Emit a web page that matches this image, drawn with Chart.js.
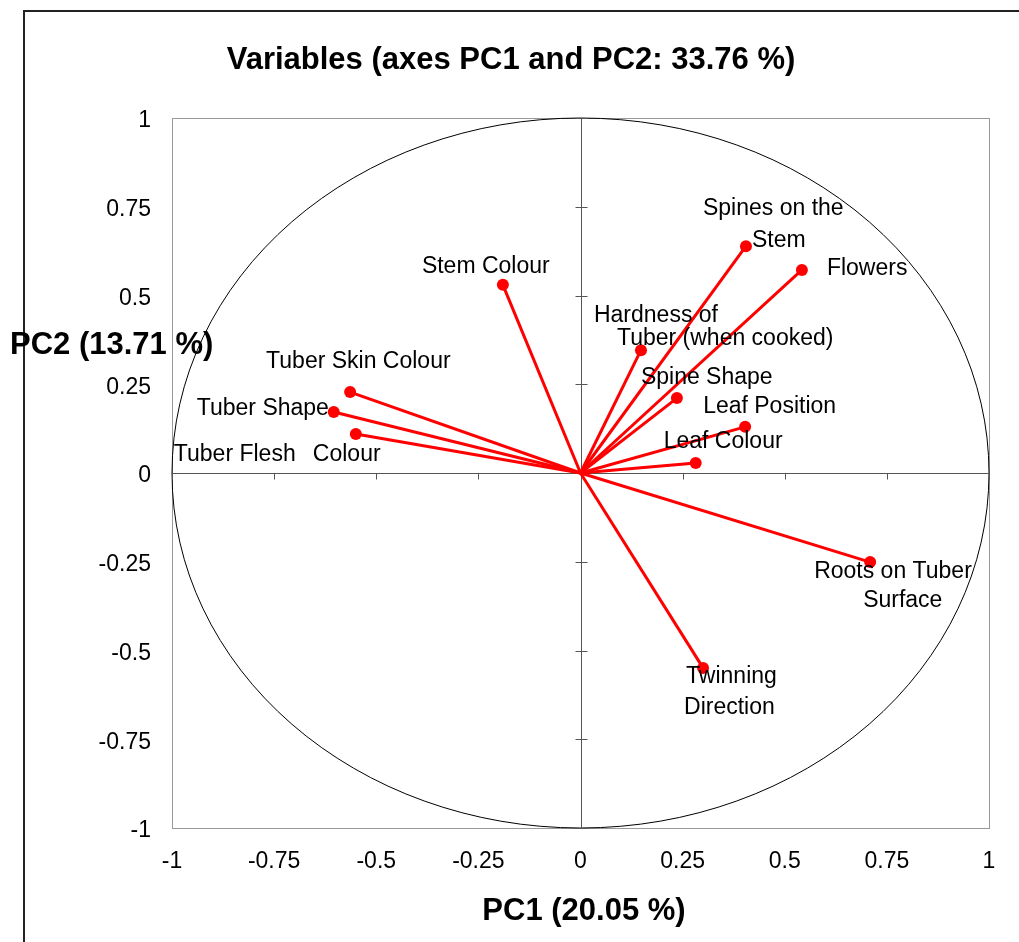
<!DOCTYPE html>
<html>
<head>
<meta charset="utf-8">
<script src="https://cdn.jsdelivr.net/npm/chart.js@4.4.0/dist/chart.umd.min.js"></script>
<style>
  html, body { margin: 0; padding: 0; background: #fff; }
  #wrap { width: 1019px; height: 942px; }
</style>
</head>
<body>
<div id="wrap"><canvas id="c" width="1019" height="942"></canvas></div>
<script>
// ---- data ----
const variables = ['Stem Colour', 'Spines on the Stem', 'Flowers', 'Hardness of Tuber (when cooked)',
  'Spine Shape', 'Leaf Position', 'Leaf Colour', 'Roots on Tuber Surface', 'Twinning Direction',
  'Tuber Skin Colour', 'Tuber Shape', 'Tuber Flesh Colour'];
const pc1 = [-0.190, 0.405, 0.542, 0.148, 0.236, 0.403, 0.282, 0.709, 0.300, -0.564, -0.604, -0.550];
const pc2 = [0.530, 0.639, 0.572, 0.346, 0.211, 0.130, 0.028, -0.251, -0.549, 0.228, 0.172, 0.110];
const tickValues = [-1, -0.75, -0.5, -0.25, 0, 0.25, 0.5, 0.75, 1];
const tickLabels = ['-1', '-0.75', '-0.5', '-0.25', '0', '0.25', '0.5', '0.75', '1'];
const chartTitle = 'Variables (axes PC1 and PC2: 33.76 %)';
const xTitle = 'PC1 (20.05 %)';
const yTitle = 'PC2 (13.71 %)';

// label line pieces (text) for each variable
const labelLines = [
  ['Stem Colour'],
  ['Spines on the', 'Stem'],
  ['Flowers'],
  ['Hardness of', 'Tuber (when cooked)'],
  ['Spine Shape'],
  ['Leaf Position'],
  ['Leaf Colour'],
  ['Roots on Tuber', 'Surface'],
  ['Twinning', 'Direction'],
  ['Tuber Skin Colour'],
  ['Tuber Shape'],
  ['Tuber Flesh', 'Colour']
];
// label placement offsets in pixels relative to the point (layout only)
const labelOffsets = [
  [[-81, -18]],
  [[-43, -37], [6, -5]],
  [[25, -1]],
  [[-47, -35], [-24, -12]],
  [[-36, -20]],
  [[-42, -20]],
  [[-32, -21]],
  [[-56, 10], [-7, 39]],
  [[-17, 9], [-19, 40]],
  [[-84, -30]],
  [[-137, -3]],
  [[-182, 21], [-43, 21]]
];

const FONT = '"Liberation Sans", Arial, sans-serif';
const RED = '#ff0000';

const datasets = variables.map((name, i) => ({
  label: name,
  data: [{x: 0, y: 0}, {x: pc1[i], y: pc2[i]}],
  showLine: true,
  borderColor: RED,
  backgroundColor: RED,
  borderWidth: 3,
  pointRadius: ctx => ctx.dataIndex === 1 ? 6 : 0,
  pointHoverRadius: ctx => ctx.dataIndex === 1 ? 6 : 0,
  pointBorderWidth: 0,
  clip: false
}));

const decor = {
  id: 'decor',
  beforeDraw(chart) {
    const ctx = chart.ctx;
    const {left, right, top, bottom} = chart.chartArea;
    const xs = chart.scales.x, ys = chart.scales.y;
    ctx.save();
    ctx.fillStyle = '#fff';
    ctx.fillRect(0, 0, chart.width, chart.height);
    // outer frame
    ctx.strokeStyle = '#222';
    ctx.lineWidth = 2;
    ctx.beginPath();
    ctx.moveTo(24, chart.height + 5);
    ctx.lineTo(24, 11);
    ctx.lineTo(chart.width + 5, 11);
    ctx.stroke();
    // plot border
    ctx.strokeStyle = '#999';
    ctx.lineWidth = 1;
    ctx.strokeRect(Math.round(left) + 0.5, Math.round(top) + 0.5, Math.round(right - left), Math.round(bottom - top));
    // circle
    const cx = xs.getPixelForValue(0), cy = ys.getPixelForValue(0);
    const rx = xs.getPixelForValue(1) - cx, ry = cy - ys.getPixelForValue(1);
    ctx.strokeStyle = '#000';
    ctx.lineWidth = 1;
    ctx.beginPath();
    ctx.ellipse(cx, cy, rx, ry, 0, 0, Math.PI * 2);
    ctx.stroke();
    // center axes
    ctx.strokeStyle = '#555';
    ctx.lineWidth = 1;
    const vx = Math.round(cx) + 0.5, hy = Math.round(cy) + 0.5;
    ctx.beginPath();
    ctx.moveTo(vx, top); ctx.lineTo(vx, bottom);
    ctx.moveTo(left, hy); ctx.lineTo(right, hy);
    tickValues.forEach(v => {
      const py = Math.round(ys.getPixelForValue(v)) + 0.5;
      ctx.moveTo(vx - 6, py); ctx.lineTo(vx + 6, py);
      const px = Math.round(xs.getPixelForValue(v)) + 0.5;
      ctx.moveTo(px, hy); ctx.lineTo(px, hy + 6);
    });
    ctx.stroke();
    ctx.restore();
  },
  afterDraw(chart) {
    const ctx = chart.ctx;
    ctx.save();
    ctx.fillStyle = '#000';
    ctx.textBaseline = 'middle';
    // titles
    ctx.font = 'bold 31px ' + FONT;
    ctx.textAlign = 'center';
    ctx.fillText(chartTitle, 511, 60);
    ctx.fillText(xTitle, 584, 911);
    ctx.textAlign = 'left';
    ctx.fillText(yTitle, 10, 345);
    // labels
    ctx.font = '23px ' + FONT;
    variables.forEach((name, i) => {
      const meta = chart.getDatasetMeta(i);
      const pt = meta.data[1];
      labelLines[i].forEach((txt, j) => {
        const [dx, dy] = labelOffsets[i][j];
        ctx.fillText(txt, pt.x + dx, pt.y + dy);
      });
    });
    ctx.restore();
  }
};

new Chart(document.getElementById('c'), {
  type: 'scatter',
  data: { datasets },
  options: {
    responsive: false,
    animation: false,
    layout: { padding: { left: 0, top: 118, right: 30, bottom: 0 } },
    plugins: { legend: { display: false }, tooltip: { enabled: false }, title: { display: false } },
    scales: {
      x: {
        type: 'linear', min: -1, max: 1,
        afterBuildTicks: s => { s.ticks = tickValues.map(v => ({value: v})); },
        afterFit: s => { s.height = 114; },
        grid: { display: false, drawTicks: false },
        border: { display: false },
        ticks: {
          padding: 20, color: '#000', font: { family: FONT, size: 23 },
          maxRotation: 0, autoSkip: false,
          callback: (v) => tickLabels[tickValues.indexOf(v)]
        }
      },
      y: {
        type: 'linear', min: -1, max: 1,
        afterBuildTicks: s => { s.ticks = tickValues.map(v => ({value: v})); },
        afterFit: s => { s.width = 172; },
        grid: { display: false, drawTicks: false },
        border: { display: false },
        ticks: {
          padding: 21, labelOffset: 3, color: '#000', font: { family: FONT, size: 23 },
          autoSkip: false,
          callback: (v) => tickLabels[tickValues.indexOf(v)]
        }
      }
    }
  },
  plugins: [decor]
});
</script>
</body>
</html>
